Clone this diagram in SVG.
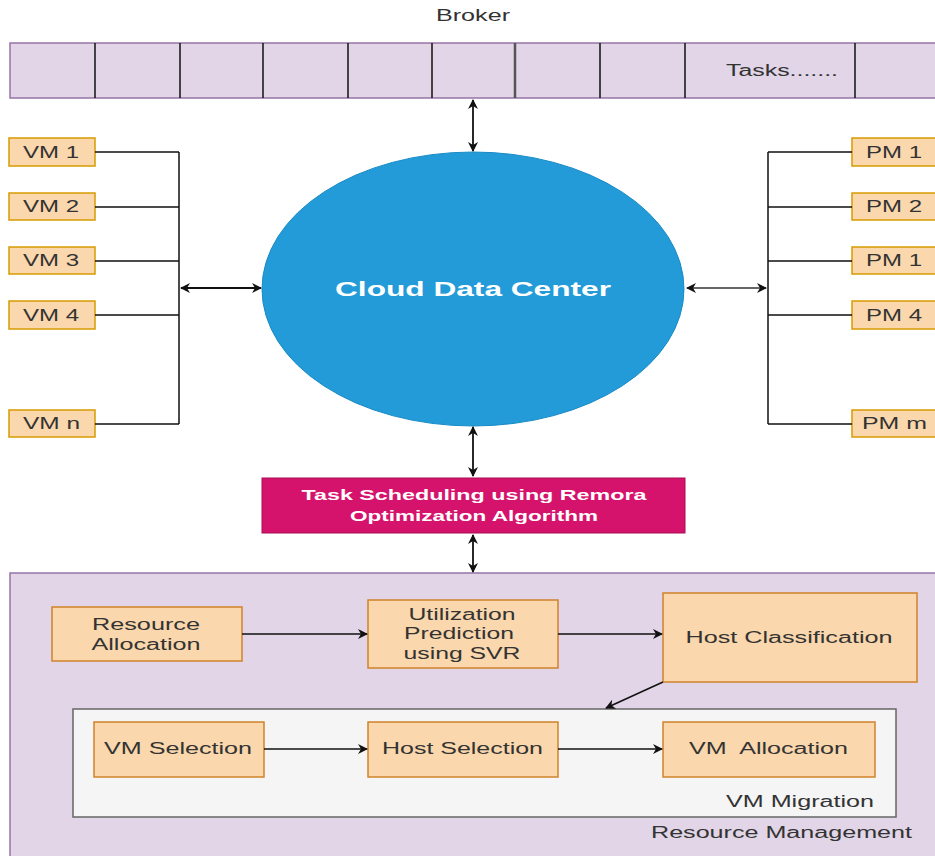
<svg xmlns="http://www.w3.org/2000/svg" width="935" height="856" viewBox="0 0 935 856">
<style>
  text { font-family: "Liberation Sans", Arial, sans-serif; fill: #333; }
  .box { fill: #fad7ac; stroke: #d79b00; stroke-width: 1.5; }
  .obox { fill: #fad7ac; stroke: #d0832a; stroke-width: 1.5; }
  .lbl { font-size: 16px; }
  .c { text-anchor: middle; }
  .wire { fill: none; stroke: #111; stroke-width: 1.5; }
  .arr { fill: none; stroke: #111; stroke-width: 1.5; marker-end: url(#ah); }
  .darr { fill: none; stroke: #111; stroke-width: 1.8; marker-start: url(#ahs); marker-end: url(#ah); }
  .div { stroke: #111; stroke-width: 1.5; }
</style>
<defs>
  <marker id="ah" viewBox="0 0 10 10" refX="9" refY="5" markerWidth="11" markerHeight="10" markerUnits="userSpaceOnUse" orient="auto">
    <path d="M0,0 L10,5 L0,10 L3,5 Z" fill="#111"/>
  </marker>
  <marker id="ahs" viewBox="0 0 10 10" refX="1" refY="5" markerWidth="11" markerHeight="10" markerUnits="userSpaceOnUse" orient="auto">
    <path d="M10,0 L0,5 L10,10 L7,5 Z" fill="#111"/>
  </marker>
</defs>
<rect width="935" height="856" fill="#ffffff"/>

<g id="broker">
  <text class="lbl c" x="473" y="21" textLength="74" lengthAdjust="spacingAndGlyphs" font-size="16">Broker</text>
  <rect x="10" y="43" width="935" height="55" fill="#e1d5e7" stroke="#9673a6" stroke-width="1.5"/>
  <line class="div" x1="95" y1="43" x2="95" y2="98"/>
  <line class="div" x1="180" y1="43" x2="180" y2="98"/>
  <line class="div" x1="263" y1="43" x2="263" y2="98"/>
  <line class="div" x1="348" y1="43" x2="348" y2="98"/>
  <line class="div" x1="432" y1="43" x2="432" y2="98"/>
  <line x1="515" y1="43" x2="515" y2="98" stroke="#555" stroke-width="2.5"/>
  <line class="div" x1="600" y1="43" x2="600" y2="98"/>
  <line class="div" x1="685" y1="43" x2="685" y2="98"/>
  <line class="div" x1="855" y1="43" x2="855" y2="98"/>
  <text class="lbl c" x="782" y="76" textLength="112" lengthAdjust="spacingAndGlyphs">Tasks.......</text>
</g>

<g id="cloud">
  <ellipse cx="473" cy="289" rx="211" ry="137" fill="#229bd8" stroke="#1a8bc6" stroke-width="1"/>
  <text class="c" x="473" y="296" font-size="20" font-weight="bold" style="fill:#ffffff" textLength="276" lengthAdjust="spacingAndGlyphs">Cloud Data Center</text>
</g>

<g id="vm1"><rect class="box" x="9" y="138" width="86" height="28"/><text class="lbl" x="23" y="158" textLength="56" lengthAdjust="spacingAndGlyphs">VM 1</text></g>
<g id="vm2"><rect class="box" x="9" y="193" width="86" height="27"/><text class="lbl" x="23" y="212" textLength="56" lengthAdjust="spacingAndGlyphs">VM 2</text></g>
<g id="vm3"><rect class="box" x="9" y="247" width="86" height="27"/><text class="lbl" x="23" y="266" textLength="56" lengthAdjust="spacingAndGlyphs">VM 3</text></g>
<g id="vm4"><rect class="box" x="9" y="301" width="86" height="28"/><text class="lbl" x="23" y="321" textLength="56" lengthAdjust="spacingAndGlyphs">VM 4</text></g>
<g id="vmn"><rect class="box" x="9" y="410" width="86" height="27"/><text class="lbl" x="23" y="429" textLength="57" lengthAdjust="spacingAndGlyphs">VM n</text></g>

<g id="pm1"><rect class="box" x="852" y="138" width="86" height="28"/><text class="lbl" x="866" y="158" textLength="56" lengthAdjust="spacingAndGlyphs">PM 1</text></g>
<g id="pm2"><rect class="box" x="852" y="193" width="86" height="27"/><text class="lbl" x="866" y="212" textLength="56" lengthAdjust="spacingAndGlyphs">PM 2</text></g>
<g id="pm3"><rect class="box" x="852" y="247" width="86" height="27"/><text class="lbl" x="866" y="266" textLength="56" lengthAdjust="spacingAndGlyphs">PM 1</text></g>
<g id="pm4"><rect class="box" x="852" y="301" width="86" height="28"/><text class="lbl" x="866" y="321" textLength="56" lengthAdjust="spacingAndGlyphs">PM 4</text></g>
<g id="pmm"><rect class="box" x="852" y="410" width="86" height="27"/><text class="lbl" x="862" y="429" textLength="65" lengthAdjust="spacingAndGlyphs">PM m</text></g>

<g id="task-scheduling">
  <rect x="262" y="478" width="423" height="55" fill="#d6136c" stroke="#a50f52" stroke-width="1"/>
  <text class="c" x="474" y="500" font-size="15" font-weight="bold" style="fill:#ffffff" textLength="345" lengthAdjust="spacingAndGlyphs">Task Scheduling using Remora</text>
  <text class="c" x="474" y="521" font-size="15" font-weight="bold" style="fill:#ffffff" textLength="248" lengthAdjust="spacingAndGlyphs">Optimization Algorithm</text>
</g>

<g id="resource-management">
  <rect x="10" y="573" width="935" height="300" fill="#e1d5e7" stroke="#9673a6" stroke-width="1.5"/>
  <text class="lbl" x="651" y="838" font-size="17" textLength="261" lengthAdjust="spacingAndGlyphs">Resource Management</text>
</g>

<g id="resource-allocation">
  <rect class="obox" x="52" y="607" width="190" height="54"/>
  <text class="lbl c" x="146" y="630" font-size="17" textLength="108" lengthAdjust="spacingAndGlyphs">Resource</text>
  <text class="lbl c" x="146" y="650" font-size="17" textLength="109" lengthAdjust="spacingAndGlyphs">Allocation</text>
</g>

<g id="utilization-prediction">
  <rect class="obox" x="368" y="600" width="190" height="68"/>
  <text class="lbl c" x="462" y="620" font-size="17" textLength="107" lengthAdjust="spacingAndGlyphs">Utilization</text>
  <text class="lbl c" x="459" y="639" font-size="17" textLength="110" lengthAdjust="spacingAndGlyphs">Prediction</text>
  <text class="lbl c" x="462" y="659" font-size="17" textLength="117" lengthAdjust="spacingAndGlyphs">using SVR</text>
</g>

<g id="host-classification">
  <rect class="obox" x="663" y="593" width="254" height="89"/>
  <text class="lbl c" x="789" y="643" font-size="17" textLength="207" lengthAdjust="spacingAndGlyphs">Host Classification</text>
</g>

<g id="vm-migration">
  <rect x="73" y="709" width="823" height="108" fill="#f5f5f5" stroke="#666666" stroke-width="1.5"/>
  <text class="lbl" x="726" y="807" font-size="17" textLength="148" lengthAdjust="spacingAndGlyphs">VM Migration</text>
</g>

<g id="vm-selection">
  <rect class="obox" x="94" y="722" width="170" height="55"/>
  <text class="lbl" x="104" y="754" font-size="17" textLength="148" lengthAdjust="spacingAndGlyphs">VM Selection</text>
</g>
<g id="host-selection">
  <rect class="obox" x="368" y="722" width="190" height="55"/>
  <text class="lbl" x="382" y="754" font-size="17" textLength="161" lengthAdjust="spacingAndGlyphs">Host Selection</text>
</g>
<g id="vm-allocation">
  <rect class="obox" x="663" y="722" width="212" height="55"/>
  <text class="lbl" x="689" y="754" font-size="17" textLength="159" lengthAdjust="spacingAndGlyphs" xml:space="preserve">VM  Allocation</text>
</g>

<g id="connectors">
  <line class="darr" x1="473" y1="100" x2="473" y2="151"/>
  <line class="darr" x1="473" y1="427" x2="473" y2="476"/>
  <line class="darr" x1="473" y1="535" x2="473" y2="572"/>
  <path class="wire" d="M95,152 H179 M95,207 H179 M95,261 H179 M95,315 H179 M95,424 H179 M179,152 V424"/>
  <line class="darr" x1="181" y1="288" x2="261" y2="288"/>
  <path class="wire" d="M852,152 H768 M852,207 H768 M852,261 H768 M852,315 H768 M852,424 H768 M768,152 V424"/>
  <line class="darr" x1="687" y1="288" x2="766" y2="288" style="stroke:#666"/>
  <line class="arr" x1="242" y1="634" x2="367" y2="634"/>
  <line class="arr" x1="558" y1="634" x2="662" y2="634"/>
  <line class="arr" x1="663" y1="682" x2="606" y2="708"/>
  <line class="arr" x1="264" y1="749" x2="367" y2="749"/>
  <line class="arr" x1="558" y1="749" x2="662" y2="749"/>
</g>
</svg>
